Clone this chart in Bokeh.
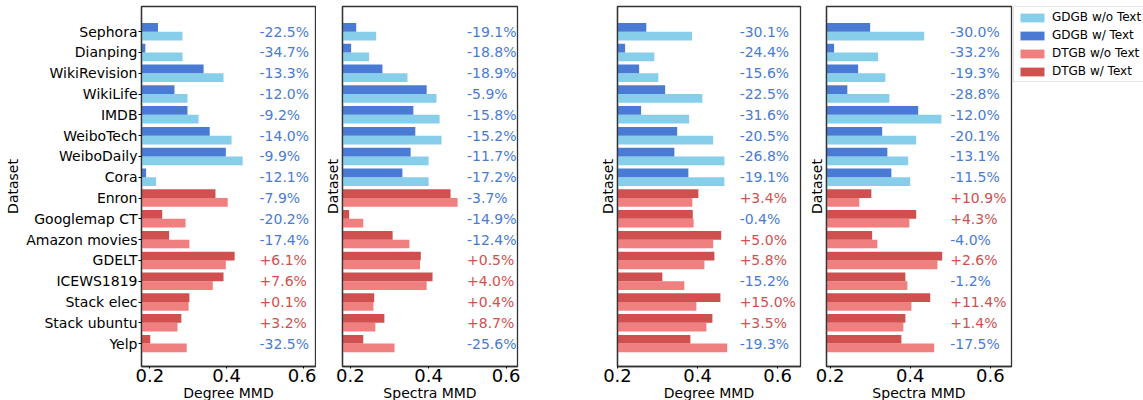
from bokeh.plotting import figure
from bokeh.layouts import row, column
from bokeh.models import (ColumnDataSource, Range1d, FixedTicker, Legend, LegendItem, Spacer)
from bokeh.transform import dodge
from bokeh.core.properties import value
from bokeh.embed import file_html
from bokeh.resources import INLINE

datasets = ["Sephora", "Dianping", "WikiRevision", "WikiLife", "IMDB", "WeiboTech",
            "WeiboDaily", "Cora", "Enron", "Googlemap CT", "Amazon movies", "GDELT",
            "ICEWS1819", "Stack elec", "Stack ubuntu", "Yelp"]
groups = ["GDGB"] * 8 + ["DTGB"] * 8
x_ticks = [0.2, 0.4, 0.6]
legend_labels = ["GDGB w/o Text", "GDGB w/ Text", "DTGB w/o Text", "DTGB w/ Text"]

# Panel 1: Degree MMD
deg1_wo = [0.285, 0.285, 0.392, 0.298, 0.327, 0.413, 0.442, 0.216,
           0.403, 0.293, 0.303, 0.398, 0.364, 0.301, 0.272, 0.296]
deg1_w = [0.221, 0.188, 0.340, 0.264, 0.298, 0.356, 0.398, 0.190,
          0.371, 0.232, 0.250, 0.421, 0.392, 0.303, 0.282, 0.201]
deg1_pct = ["-22.5%", "-34.7%", "-13.3%", "-12.0%", "-9.2%", "-14.0%", "-9.9%", "-12.1%",
            "-7.9%", "-20.2%", "-17.4%", "+6.1%", "+7.6%", "+0.1%", "+3.2%", "-32.5%"]

# Panel 2: Spectra MMD
spec1_wo = [0.266, 0.248, 0.346, 0.420, 0.428, 0.433, 0.400, 0.400,
            0.474, 0.233, 0.351, 0.378, 0.395, 0.259, 0.264, 0.313]
spec1_w = [0.215, 0.202, 0.282, 0.395, 0.361, 0.366, 0.354, 0.333,
           0.456, 0.197, 0.308, 0.380, 0.410, 0.261, 0.287, 0.233]
spec1_pct = ["-19.1%", "-18.8%", "-18.9%", "-5.9%", "-15.8%", "-15.2%", "-11.7%", "-17.2%",
             "-3.7%", "-14.9%", "-12.4%", "+0.5%", "+4.0%", "+0.4%", "+8.7%", "-25.6%"]

# Panel 3: Degree MMD
deg2_wo = [0.386, 0.292, 0.302, 0.412, 0.379, 0.439, 0.467, 0.467,
           0.387, 0.390, 0.439, 0.417, 0.367, 0.397, 0.422, 0.474]
deg2_w = [0.272, 0.219, 0.254, 0.319, 0.259, 0.349, 0.342, 0.377,
          0.402, 0.388, 0.459, 0.442, 0.312, 0.457, 0.437, 0.382]
deg2_pct = ["-30.1%", "-24.4%", "-15.6%", "-22.5%", "-31.6%", "-20.5%", "-26.8%", "-19.1%",
            "+3.4%", "-0.4%", "+5.0%", "+5.8%", "-15.2%", "+15.0%", "+3.5%", "-19.3%"]

# Panel 4: Spectra MMD
spec2_wo = [0.435, 0.320, 0.338, 0.348, 0.478, 0.415, 0.395, 0.400,
            0.273, 0.398, 0.318, 0.468, 0.393, 0.403, 0.383, 0.460]
spec2_w = [0.300, 0.210, 0.270, 0.243, 0.420, 0.330, 0.343, 0.353,
           0.303, 0.415, 0.305, 0.480, 0.388, 0.450, 0.388, 0.378]
spec2_pct = ["-30.0%", "-33.2%", "-19.3%", "-28.8%", "-12.0%", "-20.1%", "-13.1%", "-11.5%",
             "+10.9%", "+4.3%", "-4.0%", "+2.6%", "-1.2%", "+11.4%", "+1.4%", "-17.5%"]

C = {"GDGB": ("#87ceeb", "#4a7bd4"), "DTGB": ("#f08080", "#d05050")}
TXT_NEG = "#4a7bd4"
TXT_POS = "#d05050"
FONT = "DejaVu Sans"
LINE = "#333333"
H_PANEL = 384
H_LABEL = 16


def make_panel(wo, w, pct, xlabel, xr, text_x, show_names, width, mb_left, mb_right):
    n = len(datasets)
    ypos = [n - 1 - i for i in range(n)]
    x_range = Range1d(*xr)
    p = figure(width=width, height=H_PANEL, output_backend="svg", toolbar_location=None,
               x_range=x_range, y_range=Range1d(-1.1, n - 1 + 1.21),
               min_border_left=mb_left, min_border_right=mb_right,
               min_border_top=6, min_border_bottom=0,
               background_fill_color="white", border_fill_color="white")
    for g in ["GDGB", "DTGB"]:
        idx = [i for i in range(n) if groups[i] == g]
        src = ColumnDataSource(dict(y=[ypos[i] for i in idx],
                                    wo=[wo[i] for i in idx],
                                    w=[w[i] for i in idx]))
        p.hbar(y=dodge("y", -0.21), left=0, right="wo", height=0.42,
               fill_color=C[g][0], line_color=None, source=src)
        p.hbar(y=dodge("y", 0.21), left=0, right="w", height=0.42,
               fill_color=C[g][1], line_color=None, source=src)
    tsrc = ColumnDataSource(dict(x=[text_x] * n, y=ypos, t=pct,
                                 c=[TXT_POS if s.startswith("+") else TXT_NEG for s in pct]))
    p.text(x="x", y="y", text="t", text_color="c", text_font=value(FONT),
           text_font_size="14px", text_align="left", text_baseline="middle", source=tsrc)

    p.xgrid.visible = False
    p.ygrid.visible = False
    p.outline_line_color = LINE
    p.outline_line_width = 1.3

    xa = p.xaxis[0]
    xa.ticker = FixedTicker(ticks=x_ticks)
    xa.major_label_text_font = FONT
    xa.major_label_text_font_size = "18px"
    xa.major_label_text_color = "black"
    xa.major_label_standoff = 0
    xa.major_tick_out = 2
    xa.major_tick_in = 0
    xa.minor_tick_line_color = None
    xa.axis_line_color = LINE
    xa.axis_line_width = 1.3

    ya = p.yaxis[0]
    ya.ticker = FixedTicker(ticks=ypos)
    ya.axis_label = "Dataset"
    ya.axis_label_text_font = FONT
    ya.axis_label_text_font_style = "normal"
    ya.axis_label_text_font_size = "14px"
    ya.axis_label_text_color = "black"
    ya.axis_label_standoff = 2
    ya.major_label_text_font = FONT
    ya.major_label_text_font_size = "14px"
    ya.major_label_text_color = "black"
    ya.minor_tick_line_color = None
    ya.axis_line_color = LINE
    ya.axis_line_width = 1.3
    ya.major_tick_in = 0
    if show_names:
        ya.major_label_overrides = {ypos[i]: datasets[i] for i in range(n)}
        ya.major_tick_out = 3
        ya.major_label_standoff = 1
    else:
        ya.major_label_overrides = {ypos[i]: "" for i in range(n)}
        ya.major_tick_out = 0
        ya.major_tick_line_color = None
        ya.major_label_standoff = 0

    # x-axis title strip, frame aligned with the panel frame
    q = figure(width=width, height=H_LABEL, output_backend="svg", toolbar_location=None,
               x_range=x_range, y_range=Range1d(0, H_LABEL),
               min_border_left=mb_left, min_border_right=mb_right,
               min_border_top=0, min_border_bottom=0,
               background_fill_color="white", border_fill_color="white")
    q.axis.visible = False
    q.grid.visible = False
    q.outline_line_color = None
    q.text(x=[(xr[0] + xr[1]) / 2], y=[H_LABEL / 2], text=[xlabel], text_font=value(FONT),
           text_font_size="14px", text_color="black", text_align="center",
           text_baseline="middle")
    return column(p, q, spacing=0)


c1 = make_panel(deg1_wo, deg1_w, deg1_pct, "Degree MMD", (0.178, 0.632), 0.486,
                True, 316, 141, 1)
c2 = make_panel(spec1_wo, spec1_w, spec1_pct, "Spectra MMD", (0.18, 0.627), 0.498,
                False, 204, 26, 3)
c3 = make_panel(deg2_wo, deg2_w, deg2_pct, "Degree MMD", (0.2, 0.657), 0.505,
                False, 208, 22, 3)
c4 = make_panel(spec2_wo, spec2_w, spec2_pct, "Spectra MMD", (0.191, 0.653), 0.50,
                False, 210, 23, 2)

# legend panel
H = H_PANEL + H_LABEL
pl = figure(width=130, height=H, output_backend="svg", toolbar_location=None,
            x_range=Range1d(0, 1), y_range=Range1d(0, 1),
            min_border_left=0, min_border_right=0, min_border_top=6, min_border_bottom=0)
pl.axis.visible = False
pl.grid.visible = False
pl.outline_line_color = None
colors = [C["GDGB"][0], C["GDGB"][1], C["DTGB"][0], C["DTGB"][1]]
items = []
for lab, col in zip(legend_labels, colors):
    # zero-length proxy bar: only its colour is shown, in the legend
    r = pl.hbar(y=[0], left=[0], right=[0], height=0, fill_color=col, line_color=None)
    items.append(LegendItem(label=lab, renderers=[r]))
legend = Legend(items=items, location="top_left", label_text_font=FONT,
                label_text_font_size="12px", label_text_color="black",
                glyph_width=30, glyph_height=11, label_height=14, spacing=4, padding=3,
                margin=0, label_standoff=5, border_line_color="#cccccc",
                border_line_width=1, background_fill_alpha=1.0)
pl.add_layout(legend)

layout = row(c1, c2, Spacer(width=75, height=H), c3, c4, pl)

open("out.html", "w").write(file_html(layout, INLINE))
